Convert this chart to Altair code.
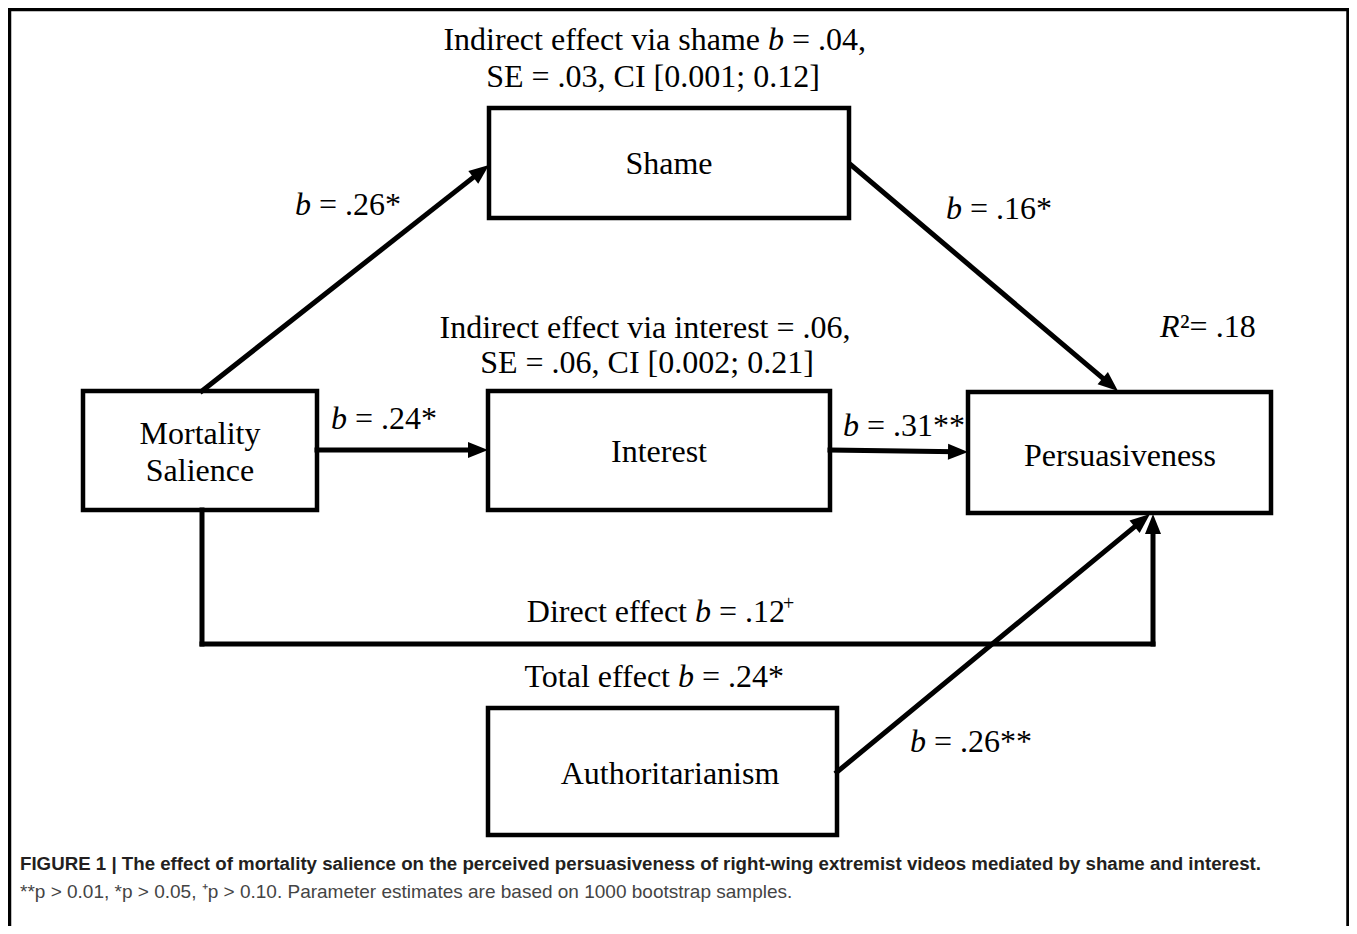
import math
import altair as alt
import pandas as pd

# ---------------- data ----------------
box_names = ["Shame", "Mortality Salience", "Interest", "Persuasiveness", "Authoritarianism"]
box_x0 = [489, 83, 488, 968, 488]
box_x1 = [849, 317, 830, 1271, 837]
box_y0 = [108, 391, 391, 392, 708]
box_y1 = [218, 510, 510, 513, 835]

node_text = ["Shame", "Mortality", "Salience", "Interest", "Persuasiveness", "Authoritarianism"]
node_x = [669, 200, 200, 659, 1120, 670]
node_y = [174, 444, 481, 462, 466, 784]

# arrows: polylines, arrowhead at the last point
arrow_px = [[202, 489], [851, 1118], [317, 488], [830, 968], [202, 202, 1153, 1153], [837, 1150]]
arrow_py = [[391, 165], [165, 391], [450, 450], [450, 452], [510, 644, 644, 514], [772, 514]]

# centred plain text lines
plain_text = ["SE = .03, CI [0.001; 0.12]",
              "Indirect effect via interest = .06,",
              "SE = .06, CI [0.002; 0.21]"]
plain_x = [653, 645, 647]
plain_y = [87, 338, 373]

# labels with an italic coefficient symbol: pre text, symbol, post text
coef_pre = ["Indirect effect via shame", "", "", "", "", "Direct effect", "Total effect", "", ""]
coef_sym = ["b", "b", "b", "b", "b", "b", "b", "b", "R"]
coef_post = ["= .04,", "= .26*", "= .16*", "= .24*", "= .31**", "= .12", "= .24*", "= .26**", "\u00b2= .18"]
coef_x = [768, 295, 946, 331, 843, 695, 678, 910, 1160]
coef_y = [50, 215, 219, 429, 436, 622, 687, 752, 337]
coef_symw = [24, 24, 24, 24, 24, 24, 24, 24, 20]

sup_text = ["+"]
sup_x = [783]
sup_y = [610]

caption1 = "FIGURE 1 | The effect of mortality salience on the perceived persuasiveness of right-wing extremist videos mediated by shame and interest."
caption2 = "**p > 0.01, *p > 0.05, \u207ap > 0.10. Parameter estimates are based on 1000 bootstrap samples."

frame_x = [9.5, 9.5, 1348]
frame_x2 = [9.5, 1348, 1348]
frame_y = [9.5, 9.5, 9.5]
frame_y2 = [940, 9.5, 940]

# ---------------- build ----------------
X0, Y0 = 8, 8
W, H = 1357 - 2 * X0, 934 - 2 * Y0
xs = alt.Scale(domain=[X0, X0 + W], nice=False, zero=False)
ys = alt.Scale(domain=[Y0, Y0 + H], nice=False, zero=False, reverse=True)
SERIF = "Liberation Serif, Times New Roman, serif"
SANS = "Liberation Sans, Arial, Helvetica, sans-serif"
FS = 32


def X(f="x"):
    return alt.X(f"{f}:Q", scale=xs, axis=None)


def Y(f="y"):
    return alt.Y(f"{f}:Q", scale=ys, axis=None)


boxes = pd.DataFrame({"name": box_names, "x": box_x0, "x2": box_x1, "y": box_y0, "y2": box_y1})
box_layer = alt.Chart(boxes).mark_rect(fill="white", stroke="black", strokeWidth=4.5).encode(
    x=X(), x2="x2:Q", y=Y(), y2="y2:Q")

HEAD = 20
segs, heads = [], []
for px, py in zip(arrow_px, arrow_py):
    n = len(px)
    for i in range(n - 1):
        x1, y1, x2, y2 = px[i], py[i], px[i + 1], py[i + 1]
        if i == n - 2:
            L = math.hypot(x2 - x1, y2 - y1)
            ux, uy = (x2 - x1) / L, (y2 - y1) / L
            heads.append({"x": x2, "y": y2, "angle": math.degrees(math.atan2(uy, ux)) % 360})
            x2, y2 = x2 - ux * HEAD * 0.7, y2 - uy * HEAD * 0.7
        segs.append({"x": x1, "y": y1, "x2": x2, "y2": y2})
seg_layer = alt.Chart(pd.DataFrame(segs)).mark_rule(color="black", strokeWidth=5, strokeCap="square").encode(
    x=X(), x2="x2:Q", y=Y(), y2="y2:Q")
head_layer = alt.Chart(pd.DataFrame(heads)).mark_point(
    shape="M0,0L-2,-0.8L-2,0.8Z", filled=True, color="black", opacity=1, size=HEAD * HEAD, strokeWidth=0
).encode(x=X(), y=Y(), angle=alt.Angle("angle:Q", scale=None))

frame = pd.DataFrame({"x": frame_x, "x2": frame_x2, "y": frame_y, "y2": frame_y2})
frame_layer = alt.Chart(frame).mark_rule(color="black", strokeWidth=3.5, strokeCap="square").encode(
    x=X(), x2="x2:Q", y=Y(), y2="y2:Q")

nodes = pd.DataFrame({"t": node_text, "x": node_x, "y": node_y})
node_layer = alt.Chart(nodes).mark_text(font=SERIF, fontSize=FS, align="center", baseline="alphabetic",
                                        color="black").encode(x=X(), y=Y(), text="t:N")

plain = pd.DataFrame({"t": plain_text, "x": plain_x, "y": plain_y})
plain_layer = alt.Chart(plain).mark_text(font=SERIF, fontSize=FS, align="center", baseline="alphabetic",
                                         color="black").encode(x=X(), y=Y(), text="t:N")

coef = pd.DataFrame({"pre": coef_pre, "sym": coef_sym, "post": coef_post, "x": coef_x, "y": coef_y,
                     "w": coef_symw})
coef["xpre"] = coef["x"] - 8
coef["xpost"] = coef["x"] + coef["w"]
pre_layer = alt.Chart(coef[coef["pre"] != ""]).mark_text(font=SERIF, fontSize=FS, align="right",
                                                         baseline="alphabetic", color="black").encode(
    x=X("xpre"), y=Y(), text="pre:N")
sym_layer = alt.Chart(coef).mark_text(font=SERIF, fontSize=FS, fontStyle="italic", align="left",
                                      baseline="alphabetic", color="black").encode(x=X(), y=Y(), text="sym:N")
post_layer = alt.Chart(coef).mark_text(font=SERIF, fontSize=FS, align="left", baseline="alphabetic",
                                       color="black").encode(x=X("xpost"), y=Y(), text="post:N")

sup = pd.DataFrame({"t": sup_text, "x": sup_x, "y": sup_y})
sup_layer = alt.Chart(sup).mark_text(font=SERIF, fontSize=20, align="left", baseline="alphabetic",
                                     color="black").encode(x=X(), y=Y(), text="t:N")

cap = pd.DataFrame({"t": [caption1, caption2], "x": [20, 20], "y": [870, 898]})
cap1_layer = alt.Chart(cap.iloc[:1]).mark_text(font=SANS, fontSize=18.7, fontWeight="bold", align="left",
                                               baseline="alphabetic", color="#231f20").encode(
    x=X(), y=Y(), text="t:N")
cap2_layer = alt.Chart(cap.iloc[1:]).mark_text(font=SANS, fontSize=19, align="left", baseline="alphabetic",
                                               color="#444444").encode(x=X(), y=Y(), text="t:N")

chart = alt.layer(
    frame_layer, box_layer, seg_layer, head_layer, node_layer, plain_layer,
    pre_layer, sym_layer, post_layer, sup_layer, cap1_layer, cap2_layer
).properties(
    width=W, height=H, padding=0, autosize=alt.AutoSizeParams(type="none")
).configure_view(stroke=None)

chart.save("out.html", embed_options={"renderer": "svg", "actions": False})
